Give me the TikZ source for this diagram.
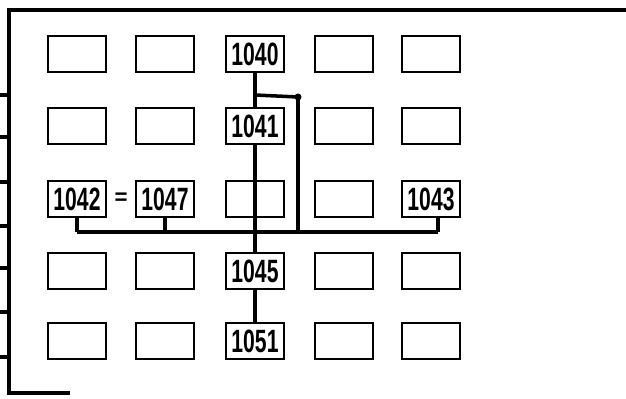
\documentclass[tikz,border=0pt]{standalone}
\usepackage{fontspec}
\setsansfont{Liberation Sans}
\usetikzlibrary{positioning}

\newcommand{\cellnum}[1]{\scalebox{0.95}[1.45]{#1}}

\tikzset{
  cell/.style={draw, line width=2pt, minimum width=1.74cm, minimum height=1.08cm,
    inner sep=0pt, font=\sffamily\bfseries\fontsize{19}{20}\selectfont},
  wire/.style={line width=3pt},
  frame/.style={line width=2.6pt}
}

\begin{document}
\begin{tikzpicture}[x=0.03cm, y=-0.03cm]
  \useasboundingbox (0,0) rectangle (626,398);
  % outer frame
  \draw[frame] (626,10) -- (9,10) -- (9,393) -- (70,393);
  \foreach \t in {95,137,182,226,268,312,357}
    \draw[frame] (0,\t) -- (9,\t);
  % row 1
  \node[cell] (c11) at (77,54) {};
  \node[cell] (c12) at (165,54) {};
  \node[cell] (n1040) at (255,54) {\cellnum{1040}};
  \node[cell] (c14) at (344,54) {};
  \node[cell] (c15) at (431,54) {};
  % row 2
  \node[cell] (c21) at (77,126) {};
  \node[cell] (c22) at (165,126) {};
  \node[cell] (n1041) at (255,126) {\cellnum{1041}};
  \node[cell] (c24) at (344,126) {};
  \node[cell] (c25) at (431,126) {};
  % row 3
  \node[cell] (n1042) at (77,199) {\cellnum{1042}};
  \node[cell] (n1047) at (165,199) {\cellnum{1047}};
  \node[cell] (c33) at (255,199) {};
  \node[cell] (c34) at (344,199) {};
  \node[cell] (n1043) at (431,199) {\cellnum{1043}};
  \node[font=\sffamily\bfseries\fontsize{19}{20}\selectfont] (eq) at (121,199) {=};
  % row 4
  \node[cell] (c41) at (77,271) {};
  \node[cell] (c42) at (165,271) {};
  \node[cell] (n1045) at (255,271) {\cellnum{1045}};
  \node[cell] (c44) at (344,271) {};
  \node[cell] (c45) at (431,271) {};
  % row 5
  \node[cell] (c51) at (77,341) {};
  \node[cell] (c52) at (165,341) {};
  \node[cell] (n1051) at (255,341) {\cellnum{1051}};
  \node[cell] (c54) at (344,341) {};
  \node[cell] (c55) at (431,341) {};
  % wiring
  \coordinate (tap) at (255,95);
  \coordinate (corner) at (298,97);
  \coordinate (drop) at (298,232);
  \coordinate (busL) at (77,232);
  \coordinate (busR) at (438,232);
  \draw[wire] (n1040) -- (n1041);
  \draw[wire] (tap) -- (corner) -- (drop);
  \fill (corner) circle (3.5);
  \draw[wire] (busL) -- (busR);
  \draw[wire] (n1042.south) -- (n1042.south |- busL);
  \draw[wire] (n1047.south) -- (n1047.south |- busL);
  \draw[wire] ([xshift=7*0.03cm]n1043.south) -- (busR);
  \draw[wire] (n1041.south) -- (n1045.north);
  \draw[wire] (n1045) -- (n1051);
\end{tikzpicture}
\end{document}
